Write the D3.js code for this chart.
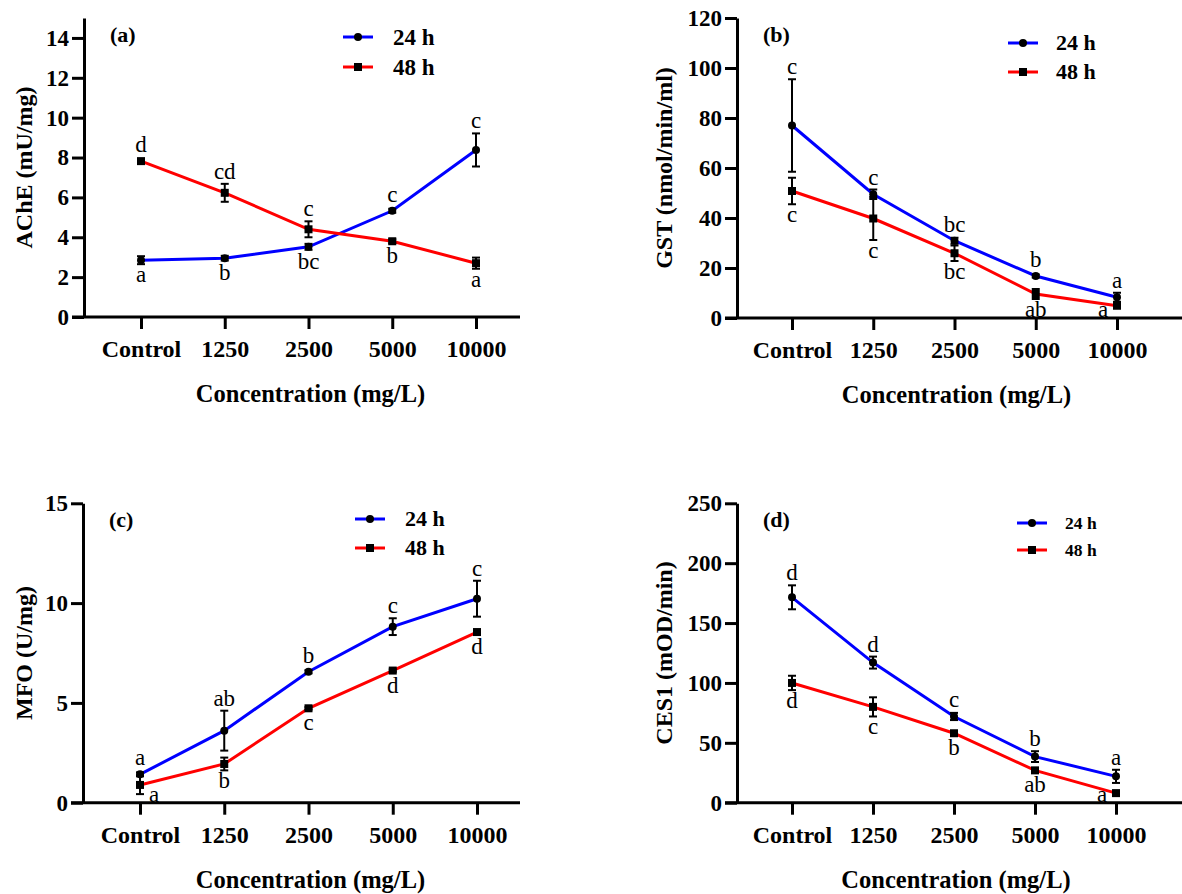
<!DOCTYPE html>
<html>
<head>
<meta charset="utf-8">
<script src="https://cdn.jsdelivr.net/npm/d3@7"></script>
<style>
  body { margin: 0; background: #fff; }
</style>
</head>
<body>
<div id="chart"></div>
<script>
// shared categories / series
var categories = ["Control", "1250", "2500", "5000", "10000"];
var seriesNames = ["24 h", "48 h"];

// (a) AChE
var ache24 = [2.85, 2.95, 3.52, 5.33, 8.38];
var ache24Err = [0.2, 0.12, 0.15, 0.1, 0.83];
var ache24Letters = ["a", "b", "bc", "c", "c"];
var ache48 = [7.82, 6.23, 4.4, 3.8, 2.7];
var ache48Err = [0.1, 0.45, 0.4, 0.1, 0.28];
var ache48Letters = ["d", "cd", "c", "b", "a"];

// (b) GST
var gst24 = [77, 49.5, 30.9, 16.8, 8.3];
var gst24Err = [18.5, 1.9, 1.2, 0.6, 1.8];
var gst24Letters = ["c", "c", "bc", "b", "a"];
var gst48 = [50.8, 39.8, 25.9, 9.6, 4.9];
var gst48Err = [5.3, 8.6, 3.1, 2.0, 0.8];
var gst48Letters = ["c", "c", "bc", "ab", "a"];

// (c) MFO
var mfo24 = [1.42, 3.61, 6.56, 8.82, 10.22];
var mfo24Err = [0.1, 1.0, 0.08, 0.42, 0.9];
var mfo24Letters = ["a", "ab", "b", "c", "c"];
var mfo48 = [0.89, 1.94, 4.73, 6.62, 8.55];
var mfo48Err = [0.46, 0.32, 0.06, 0.06, 0.06];
var mfo48Letters = ["a", "b", "c", "d", "d"];

// (d) CES1
var ces24 = [171.5, 117, 72, 38.5, 22];
var ces24Err = [10, 5, 3, 4.5, 5.5];
var ces24Letters = ["d", "d", "c", "b", "a"];
var ces48 = [100, 80, 58, 27, 8];
var ces48Err = [6, 8, 1.5, 1.5, 1.5];
var ces48Letters = ["d", "c", "b", "ab", "a"];

// y axis ticks
var acheTicks = [0, 2, 4, 6, 8, 10, 12, 14];
var gstTicks = [0, 20, 40, 60, 80, 100, 120];
var mfoTicks = [0, 5, 10, 15];
var cesTicks = [0, 50, 100, 150, 200, 250];

var colors = ["#0000ff", "#ff0000"];
var serif = "'Liberation Serif', 'Times New Roman', Times, serif";
var width = 1182, height = 894;

var svg = d3.select("#chart")
    .append("svg")
    .attr("width", width)
    .attr("height", height);

svg.append("rect").attr("width", width).attr("height", height).attr("fill", "#fff");

var panels = [
    {tag: "(a)", ytitle: "AChE (mU/mg)", ymax: 15, ticks: acheTicks,
     values: [ache24, ache48], errs: [ache24Err, ache48Err], letters: [ache24Letters, ache48Letters],
     ox: 0, oy: 0, yAxisX: 84, top: 18, bottom: 317, cat0: 141, cat1: 476, axisL: 72, axisR: 520,
     legX: 343, legY: [37, 67], legText: 393, legFont: 23},
    {tag: "(b)", ytitle: "GST (nmol/min/ml)", ymax: 120, ticks: gstTicks,
     values: [gst24, gst48], errs: [gst24Err, gst48Err], letters: [gst24Letters, gst48Letters],
     ox: 640, oy: 0, yAxisX: 97, top: 18, bottom: 318, cat0: 152, cat1: 477, axisL: 85, axisR: 542,
     legX: 368, legY: [43, 72], legText: 416, legFont: 22},
    {tag: "(c)", ytitle: "MFO (U/mg)", ymax: 15, ticks: mfoTicks,
     values: [mfo24, mfo48], errs: [mfo24Err, mfo48Err], letters: [mfo24Letters, mfo48Letters],
     ox: 0, oy: 480, yAxisX: 83, top: 23.3, bottom: 322.7, cat0: 140, cat1: 477, axisL: 71, axisR: 520,
     legX: 355, legY: [39, 68], legText: 405, legFont: 22},
    {tag: "(d)", ytitle: "CES1 (mOD/min)", ymax: 250, ticks: cesTicks,
     values: [ces24, ces48], errs: [ces24Err, ces48Err], letters: [ces24Letters, ces48Letters],
     ox: 640, oy: 480, yAxisX: 97, top: 23.3, bottom: 322.7, cat0: 152, cat1: 476, axisL: 85, axisR: 542,
     legX: 377, legY: [43, 70], legText: 425, legFont: 17.5}
];

panels.forEach(function(p) {
    var g = svg.append("g").attr("transform", `translate(${p.ox},${p.oy})`);

    var xScale = d3.scalePoint()
        .domain(categories)
        .range([p.cat0, p.cat1]);

    var yScale = d3.scaleLinear()
        .domain([0, p.ymax])
        .range([p.bottom, p.top]);

    // y axis
    var yAxis = g.append("g")
        .attr("transform", `translate(${p.yAxisX},0)`)
        .call(d3.axisLeft(yScale).tickValues(p.ticks).tickSize(12).tickSizeOuter(0).tickPadding(3));
    yAxis.select(".domain").attr("stroke-width", 3);
    yAxis.selectAll(".tick line").attr("stroke-width", 3);
    yAxis.selectAll(".tick text")
        .style("font-family", serif)
        .style("font-weight", "bold")
        .style("font-size", "23px")
        .attr("fill", "#000");

    // x axis
    var xAxis = g.append("g")
        .attr("transform", `translate(0,${p.bottom})`)
        .call(d3.axisBottom(xScale).tickSize(12).tickSizeOuter(0).tickPadding(11));
    xAxis.select(".domain").remove();
    xAxis.selectAll(".tick line").attr("stroke-width", 3);
    xAxis.selectAll(".tick text")
        .style("font-family", serif)
        .style("font-weight", "bold")
        .style("font-size", "24px")
        .attr("fill", "#000");
    g.append("line")
        .attr("x1", p.axisL).attr("x2", p.axisR)
        .attr("y1", p.bottom).attr("y2", p.bottom)
        .attr("stroke", "#000").attr("stroke-width", 3);

    // axis titles
    g.append("text")
        .attr("x", (p.cat0 + p.cat1) / 2 + 2)
        .attr("y", p.bottom + 85)
        .attr("text-anchor", "middle")
        .style("font-family", serif)
        .style("font-weight", "bold")
        .style("font-size", "24.5px")
        .text("Concentration (mg/L)");

    g.append("text")
        .attr("transform", "rotate(-90)")
        .attr("x", -(p.top + p.bottom) / 2)
        .attr("y", 32)
        .attr("text-anchor", "middle")
        .style("font-family", serif)
        .style("font-weight", "bold")
        .style("font-size", "24px")
        .text(p.ytitle);

    g.append("text")
        .attr("x", p.yAxisX + 26)
        .attr("y", p.top + 24)
        .style("font-family", serif)
        .style("font-weight", "bold")
        .style("font-size", "22px")
        .text(p.tag);

    // lines
    var line = d3.line()
        .x(function(d, i) { return xScale(categories[i]); })
        .y(function(d) { return yScale(d); });

    p.values.forEach(function(vals, s) {
        g.append("path")
            .datum(vals)
            .attr("d", line)
            .attr("fill", "none")
            .attr("stroke", colors[s])
            .attr("stroke-width", 3);
    });

    // error bars + markers
    p.values.forEach(function(vals, s) {
        var errs = p.errs[s];
        vals.forEach(function(v, i) {
            var cx = xScale(categories[i]);
            var yt = yScale(v + errs[i]), yb = yScale(v - errs[i]);
            g.append("line").attr("x1", cx).attr("x2", cx).attr("y1", yt).attr("y2", yb)
                .attr("stroke", "#000").attr("stroke-width", 2);
            [yt, yb].forEach(function(yy) {
                g.append("line").attr("x1", cx - 4).attr("x2", cx + 4).attr("y1", yy).attr("y2", yy)
                    .attr("stroke", "#000").attr("stroke-width", 2);
            });
            if (s === 0) {
                g.append("circle").attr("cx", cx).attr("cy", yScale(v)).attr("r", 4).attr("fill", "#000");
            } else {
                g.append("rect").attr("x", cx - 4).attr("y", yScale(v) - 4)
                    .attr("width", 8).attr("height", 8).attr("fill", "#000");
            }
        });
    });

    // significance letters: above for the higher series, below for the lower
    p.values.forEach(function(vals, s) {
        var other = p.values[1 - s];
        vals.forEach(function(v, i) {
            var cx = xScale(categories[i]);
            var y = yScale(v);
            var yt = yScale(v + p.errs[s][i]), yb = yScale(v - p.errs[s][i]);
            var tx = cx, ty;
            if (v >= other[i]) {
                ty = Math.min(yt, y - 4) - 5;
            } else {
                ty = Math.max(yb, y + 4) + 18;
                if (ty > p.bottom - 1) {
                    if (ty - (p.bottom - 1) > 4) tx = cx + (i === 0 ? 14 : -14);
                    ty = p.bottom - 1;
                }
            }
            g.append("text")
                .attr("x", tx)
                .attr("y", ty)
                .attr("text-anchor", "middle")
                .style("font-family", serif)
                .style("font-size", "23px")
                .text(p.letters[s][i]);
        });
    });

    // legend
    seriesNames.forEach(function(name, s) {
        var ly = p.legY[s];
        g.append("line").attr("x1", p.legX).attr("x2", p.legX + 30).attr("y1", ly).attr("y2", ly)
            .attr("stroke", colors[s]).attr("stroke-width", 3);
        if (s === 0) {
            g.append("circle").attr("cx", p.legX + 15).attr("cy", ly).attr("r", 4).attr("fill", "#000");
        } else {
            g.append("rect").attr("x", p.legX + 11).attr("y", ly - 4).attr("width", 8).attr("height", 8).attr("fill", "#000");
        }
        g.append("text")
            .attr("x", p.legText)
            .attr("y", ly + p.legFont * 0.33)
            .style("font-family", serif)
            .style("font-weight", "bold")
            .style("font-size", p.legFont + "px")
            .text(name);
    });
});
</script>
</body>
</html>
